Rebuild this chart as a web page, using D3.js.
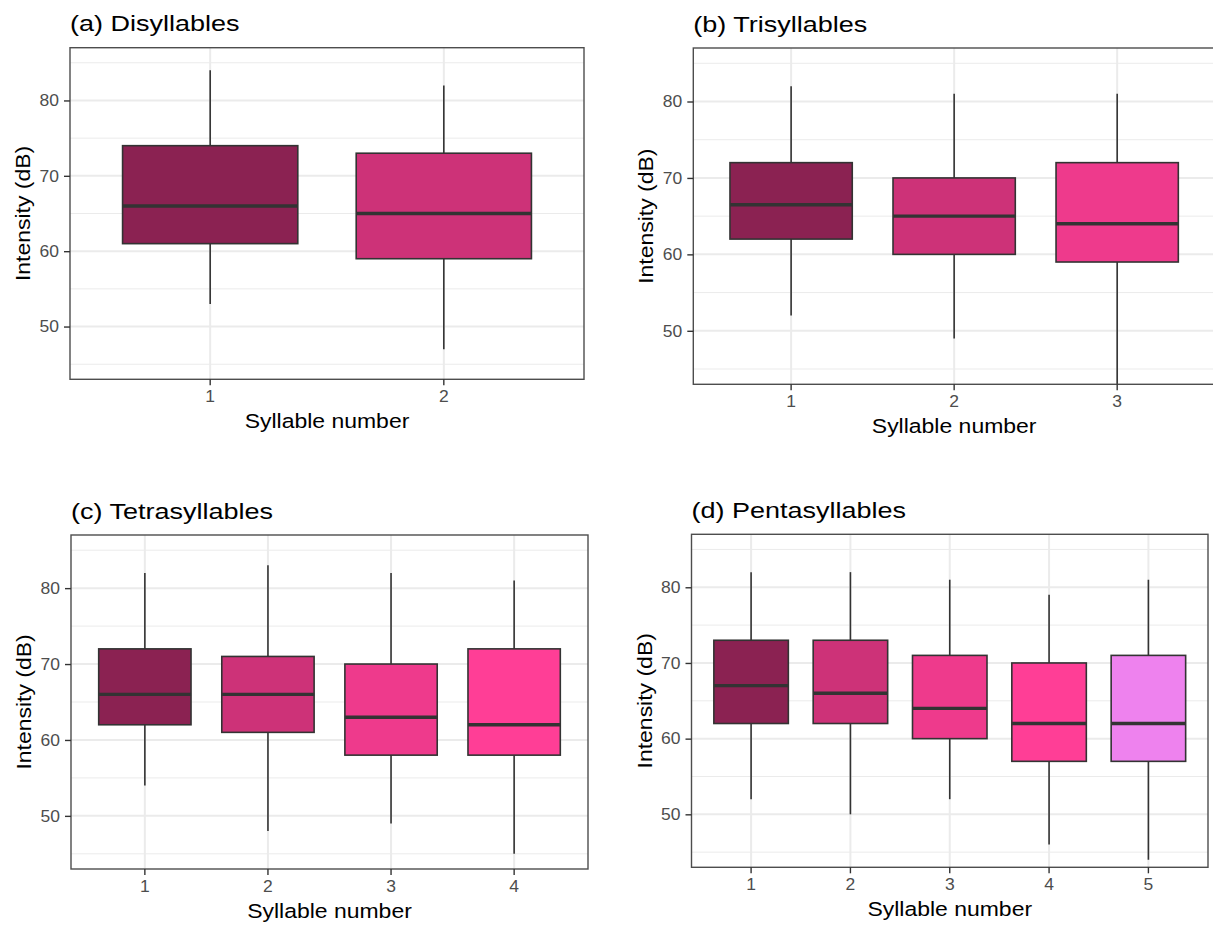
<!DOCTYPE html>
<html>
<head>
<meta charset="utf-8">
<script src="https://cdn.jsdelivr.net/npm/d3@7"></script>
<style>
  body { margin: 0; background: #fff; }
  svg { display: block; font-family: "Liberation Sans", Arial, sans-serif; }
</style>
</head>
<body>
<svg id="chart" width="1213" height="928"></svg>
<script>
// values (dB)
const panelTitles = ["(a) Disyllables", "(b) Trisyllables", "(c) Tetrasyllables", "(d) Pentasyllables"];
const syllables = [["1", "2"], ["1", "2", "3"], ["1", "2", "3", "4"], ["1", "2", "3", "4", "5"]];
const lowerWhisker = [[53, 47], [52, 49, 43], [54, 48, 49, 45], [52, 50, 52, 46, 44]];
const q1 = [[61, 59], [62, 60, 59], [62, 61, 58, 58], [62, 62, 60, 57, 57]];
const median = [[66, 65], [66.5, 65, 64], [66, 66, 63, 62], [67, 66, 64, 62, 62]];
const q3 = [[74, 73], [72, 70, 72], [72, 71, 70, 72], [73, 73, 71, 70, 71]];
const upperWhisker = [[84, 82], [82, 81, 81], [82, 83, 82, 81], [82, 82, 81, 79, 81]];
const boxColors = ["#8B2252", "#CD3278", "#EE3A8C", "#FF3E96", "#EE82EE"];
const yTicks = [50, 60, 70, 80];
const yMinorTicks = [45, 55, 65, 75, 85];
const yDomain = [43, 87];
const xTitle = "Syllable number";
const yTitle = "Intensity (dB)";

// panel rectangles (pixels)
const panels = [
    {x0: 70, x1: 584, y0: 47.7, y1: 379.3},
    {x0: 693.3, x1: 1215, y0: 48, y1: 384.3},
    {x0: 71, x1: 588, y0: 535, y1: 869},
    {x0: 691.5, x1: 1208, y0: 534.3, y1: 867.3}
];

const svg = d3.select("#chart");

// the source figure is stretched sideways, so widen the text to match
function stretch(sel, k) {
    sel.each(function () {
        const len = this.getComputedTextLength();
        d3.select(this).attr("textLength", len * k).attr("lengthAdjust", "spacingAndGlyphs");
    });
}

panels.forEach((p, i) => {
    const cats = syllables[i];
    const x = d3.scaleBand().domain(cats).range([p.x0, p.x1]).paddingInner(0.25).paddingOuter(0.225);
    const y = d3.scaleLinear().domain(yDomain).range([p.y1, p.y0]);
    const g = svg.append("g");

    // grid
    g.selectAll(".minor").data(yMinorTicks).enter().append("line")
        .attr("x1", p.x0).attr("x2", p.x1)
        .attr("y1", d => y(d)).attr("y2", d => y(d))
        .attr("stroke", "#EBEBEB").attr("stroke-width", 1);
    g.selectAll(".major").data(yTicks).enter().append("line")
        .attr("x1", p.x0).attr("x2", p.x1)
        .attr("y1", d => y(d)).attr("y2", d => y(d))
        .attr("stroke", "#EBEBEB").attr("stroke-width", 2);
    g.selectAll(".vgrid").data(cats).enter().append("line")
        .attr("x1", d => x(d) + x.bandwidth() / 2).attr("x2", d => x(d) + x.bandwidth() / 2)
        .attr("y1", p.y0).attr("y2", p.y1)
        .attr("stroke", "#EBEBEB").attr("stroke-width", 2);

    // boxes
    const boxes = g.selectAll(".box").data(cats).enter().append("g");
    boxes.append("line")
        .attr("x1", d => x(d) + x.bandwidth() / 2).attr("x2", d => x(d) + x.bandwidth() / 2)
        .attr("y1", (d, j) => y(Math.max(lowerWhisker[i][j], yDomain[0])))
        .attr("y2", (d, j) => y(upperWhisker[i][j]))
        .attr("stroke", "#333333").attr("stroke-width", 1.6);
    boxes.append("rect")
        .attr("x", d => x(d)).attr("width", x.bandwidth())
        .attr("y", (d, j) => y(q3[i][j]))
        .attr("height", (d, j) => y(q1[i][j]) - y(q3[i][j]))
        .attr("fill", (d, j) => boxColors[j])
        .attr("stroke", "#333333").attr("stroke-width", 1.6);
    boxes.append("line")
        .attr("x1", d => x(d)).attr("x2", d => x(d) + x.bandwidth())
        .attr("y1", (d, j) => y(median[i][j])).attr("y2", (d, j) => y(median[i][j]))
        .attr("stroke", "#333333").attr("stroke-width", 3.4);

    // border
    g.append("rect")
        .attr("x", p.x0).attr("y", p.y0)
        .attr("width", p.x1 - p.x0).attr("height", p.y1 - p.y0)
        .attr("fill", "none").attr("stroke", "#4D4D4D").attr("stroke-width", 1.4);

    // axes
    const ax = g.append("g").attr("transform", `translate(0,${p.y1})`)
        .call(d3.axisBottom(x).tickSize(6).tickPadding(5));
    const ay = g.append("g").attr("transform", `translate(${p.x0},0)`)
        .call(d3.axisLeft(y).tickValues(yTicks).tickSize(6).tickPadding(5));
    [ax, ay].forEach(a => {
        a.select(".domain").remove();
        a.selectAll(".tick line").attr("stroke", "#333333").attr("stroke-width", 1.4);
        a.selectAll(".tick text").attr("fill", "#4D4D4D").attr("font-size", 16.5)
            .attr("font-family", "Liberation Sans, Arial, sans-serif");
    });
    stretch(ax.selectAll(".tick text"), 1.06);
    stretch(ay.selectAll(".tick text"), 1.06);

    // titles
    const t = g.append("text").attr("x", p.x0).attr("y", p.y0 - 16.5)
        .attr("font-size", 22.5).attr("fill", "#000").text(panelTitles[i]);
    stretch(t, 1.2);

    const xt = g.append("text").attr("x", (p.x0 + p.x1) / 2).attr("y", p.y1 + 49)
        .attr("text-anchor", "middle").attr("font-size", 20.5).attr("fill", "#000").text(xTitle);
    stretch(xt, 1.12);

    const cy = (p.y0 + p.y1) / 2;
    const yt = g.append("text")
        .attr("transform", `translate(${p.x0 - 40},${cy}) rotate(-90)`)
        .attr("text-anchor", "middle").attr("font-size", 20.5).attr("fill", "#000").text(yTitle);
    stretch(yt, 1.12);
});
</script>
</body>
</html>
